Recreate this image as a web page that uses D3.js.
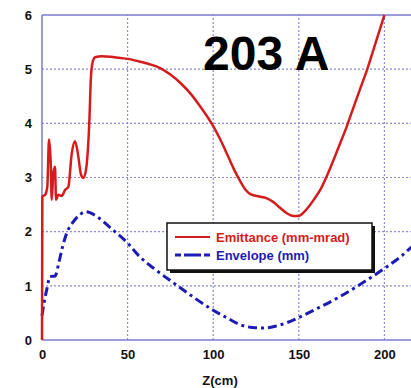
<!DOCTYPE html>
<html>
<head>
<meta charset="utf-8">
<script src="https://cdn.jsdelivr.net/npm/d3@7"></script>
<style>
  body { margin: 0; background: #fff; }
  svg text { font-family: "Liberation Sans", Arial, sans-serif; font-weight: bold; }
</style>
</head>
<body>
<div id="chart"></div>
<script>
/* DATA */
// emittance (mm-mrad) vs z (cm)
const emitZ = [0, 0.2, 1.8, 3.1, 4.1, 5.1, 5.7, 6.6, 7.6, 8.2, 9.5, 11.5, 13.5, 15.4, 17.4, 19.3, 21.2, 22.8, 24.2, 25.7, 27.7, 28.5, 29.5, 31, 35, 40, 45, 50, 57, 63, 69, 75, 81, 87, 92, 96, 100, 104, 108, 112, 116, 119, 122, 127, 131, 135, 139, 143, 147, 150, 153, 156, 159, 163, 166, 170, 174, 178, 182, 186, 190, 195, 200];
const emitV = [0, 2.65, 2.68, 2.83, 3.70, 3.27, 2.59, 3.08, 3.20, 2.59, 2.68, 2.66, 2.77, 2.83, 3.45, 3.67, 3.39, 3.05, 2.99, 3.14, 4.07, 4.8, 5.12, 5.22, 5.24, 5.23, 5.21, 5.19, 5.14, 5.09, 5.02, 4.9, 4.74, 4.54, 4.33, 4.15, 3.95, 3.71, 3.44, 3.16, 2.92, 2.77, 2.69, 2.65, 2.62, 2.55, 2.44, 2.34, 2.29, 2.29, 2.36, 2.47, 2.6, 2.8, 3.0, 3.3, 3.62, 3.94, 4.3, 4.65, 5.0, 5.5, 6.0];
// envelope (mm) vs z (cm)
const envZ = [0, 1, 2.7, 4.7, 7.6, 10, 12, 14.4, 18, 22, 25.5, 28, 32, 40, 50, 57, 65, 77, 88, 100, 108, 116, 123, 130, 137, 143, 149, 160, 174, 188, 200, 210, 216, 222];
const envV = [0.45, 0.65, 0.92, 1.17, 1.18, 1.45, 1.72, 1.97, 2.17, 2.31, 2.37, 2.35, 2.28, 2.07, 1.79, 1.54, 1.33, 1.05, 0.8, 0.55, 0.41, 0.28, 0.23, 0.22, 0.26, 0.32, 0.40, 0.57, 0.80, 1.07, 1.32, 1.55, 1.72, 1.85];

const xTicks = [0, 50, 100, 150, 200];
const yTicks = [0, 1, 2, 3, 4, 5, 6];
const gridX = [50, 100, 150, 200];
const gridY = [1, 2, 3, 4, 5];
const title = "203 A";
const xLabel = "Z(cm)";
const legendItems = [
  { label: "Emittance (mm-mrad)", color: "#d41c1c", dash: null },
  { label: "Envelope (mm)", color: "#1c1cb4", dash: "9,4,3,4" }
];

/* SETUP */
const width = 411, height = 388;
const margin = { top: 15, left: 42, bottom: 48 };

const svg = d3.select("#chart").append("svg")
  .attr("width", width)
  .attr("height", height);

const xScale = d3.scaleLinear().domain([0, 222]).range([margin.left, margin.left + 222 * 1.712]);
const yScale = d3.scaleLinear().domain([0, 6]).range([height - margin.bottom, margin.top]);

// grid
svg.selectAll("line.gx").data(gridX).join("line")
  .attr("class", "gx")
  .attr("x1", d => xScale(d)).attr("x2", d => xScale(d))
  .attr("y1", yScale(0)).attr("y2", yScale(6))
  .attr("stroke", "#8a8ad8").attr("stroke-width", 1.2)
  .attr("stroke-dasharray", "2,2");

svg.selectAll("line.gy").data(gridY).join("line")
  .attr("class", "gy")
  .attr("x1", xScale(0)).attr("x2", width)
  .attr("y1", d => yScale(d)).attr("y2", d => yScale(d))
  .attr("stroke", "#8a8ad8").attr("stroke-width", 1.2)
  .attr("stroke-dasharray", "2,2");

// frame
svg.append("line")
  .attr("x1", xScale(0)).attr("x2", width)
  .attr("y1", yScale(6)).attr("y2", yScale(6))
  .attr("stroke", "#7b7bd0").attr("stroke-width", 1.5);
svg.append("line")
  .attr("x1", xScale(0)).attr("x2", width)
  .attr("y1", yScale(0)).attr("y2", yScale(0))
  .attr("stroke", "#7b7bd0").attr("stroke-width", 1.5);
svg.append("line")
  .attr("x1", xScale(0)).attr("x2", xScale(0))
  .attr("y1", yScale(0)).attr("y2", yScale(6))
  .attr("stroke", "#7b7bd0").attr("stroke-width", 1.5);

// axes labels (no tick marks)
const xAxis = d3.axisBottom(xScale).tickValues(xTicks).tickSize(0).tickPadding(10);
const xg = svg.append("g")
  .attr("transform", `translate(0, ${yScale(0)})`)
  .call(xAxis);
xg.select(".domain").remove();
xg.selectAll("text").attr("font-size", 13).attr("fill", "#111")
  .style("font-family", "'Liberation Sans', Arial, sans-serif");

const yAxis = d3.axisLeft(yScale).tickValues(yTicks).tickFormat(d3.format("d")).tickSize(0).tickPadding(10);
const yg = svg.append("g")
  .attr("transform", `translate(${xScale(0)}, 0)`)
  .call(yAxis);
yg.select(".domain").remove();
yg.selectAll("text").attr("font-size", 13).attr("fill", "#111")
  .style("font-family", "'Liberation Sans', Arial, sans-serif");

svg.append("text")
  .attr("x", xScale(104)).attr("y", 385)
  .attr("text-anchor", "middle")
  .attr("font-size", 13).attr("fill", "#111")
  .text(xLabel);

// lines
const lineGen = d3.line()
  .x(d => xScale(d[0]))
  .y(d => yScale(d[1]))
  .curve(d3.curveMonotoneX);

svg.append("path")
  .datum(envZ.map((z, i) => [z, envV[i]]))
  .attr("fill", "none")
  .attr("stroke", legendItems[1].color)
  .attr("stroke-width", 3)
  .attr("stroke-dasharray", legendItems[1].dash)
  .attr("d", lineGen);

svg.append("path")
  .datum(emitZ.map((z, i) => [z, emitV[i]]))
  .attr("fill", "none")
  .attr("stroke", legendItems[0].color)
  .attr("stroke-width", 2.5)
  .attr("stroke-linejoin", "round")
  .attr("d", lineGen);

// title
svg.append("text")
  .attr("x", 203).attr("y", 70)
  .attr("font-size", 48)
  .attr("fill", "#000")
  .text(title);

// legend
const lg = svg.append("g").attr("transform", "translate(167, 223)");
lg.append("rect")
  .attr("x", 3).attr("y", 3).attr("width", 205).attr("height", 47)
  .attr("fill", "#111");
lg.append("rect")
  .attr("x", 0).attr("y", 0).attr("width", 205).attr("height", 47)
  .attr("fill", "#fff").attr("stroke", "#111").attr("stroke-width", 1.5);

const items = lg.selectAll("g.item").data(legendItems).join("g")
  .attr("class", "item")
  .attr("transform", (d, i) => `translate(0, ${14 + i * 18})`);
items.append("line")
  .attr("x1", 8).attr("x2", 43)
  .attr("stroke", d => d.color)
  .attr("stroke-width", (d, i) => i === 0 ? 2 : 3)
  .attr("stroke-dasharray", (d, i) => i === 0 ? null : "6,3,11,0");
items.append("text")
  .attr("x", 49).attr("y", 5)
  .attr("font-size", 13)
  .attr("fill", d => d.color)
  .text(d => d.label);
</script>
</body>
</html>
